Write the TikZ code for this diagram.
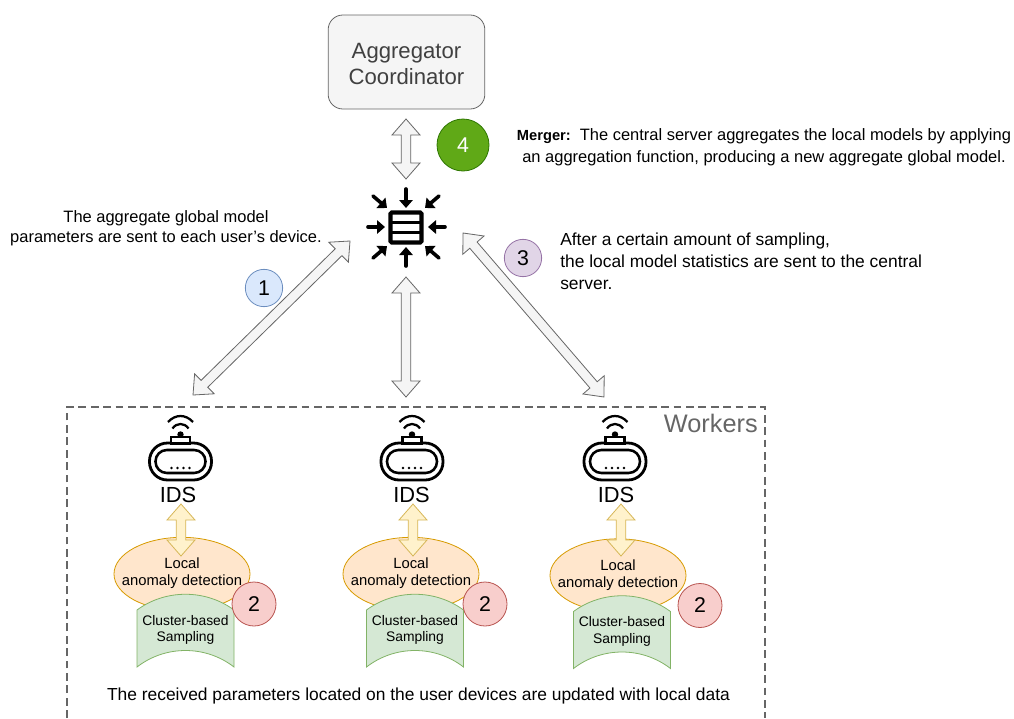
\documentclass[tikz,border=0pt]{standalone}
\usepackage{fontspec}
\setmainfont{Liberation Sans}
\usetikzlibrary{arrows.meta,calc,shapes.geometric}
\definecolor{grayfill}{HTML}{F5F5F5}
\definecolor{grayline}{HTML}{666666}
\definecolor{yellowfill}{HTML}{FFF2CC}
\definecolor{yellowline}{HTML}{D6B656}
\definecolor{orangefill}{HTML}{FFE6CC}
\definecolor{orangeline}{HTML}{D79B00}
\definecolor{greenfill}{HTML}{D5E8D4}
\definecolor{greenline}{HTML}{82B366}
\definecolor{bluefill}{HTML}{DAE8FC}
\definecolor{blueline}{HTML}{6C8EBF}
\definecolor{redfill}{HTML}{F8CECC}
\definecolor{redline}{HTML}{B85450}
\definecolor{purplefill}{HTML}{E1D5E7}
\definecolor{purpleline}{HTML}{9673A6}
\definecolor{darkfill}{HTML}{60A917}
\definecolor{darkline}{HTML}{2D7600}
\newcommand{\fs}[1]{\fontsize{#1}{#1}\selectfont}
% fat outlined arrow, pointed at both ends
\newcommand{\fatarrow}[3]{\draw[#1] (#2)
  -- ($(#2)!12pt!(#3)!10.5pt!90:(#3)$) -- ($(#2)!12pt!(#3)!3.6pt!90:(#3)$)
  -- ($(#3)!12pt!(#2)!3.6pt!-90:(#2)$) -- ($(#3)!12pt!(#2)!10.5pt!-90:(#2)$)
  -- (#3)
  -- ($(#3)!12pt!(#2)!10.5pt!90:(#2)$) -- ($(#3)!12pt!(#2)!3.6pt!90:(#2)$)
  -- ($(#2)!12pt!(#3)!3.6pt!-90:(#3)$) -- ($(#2)!12pt!(#3)!10.5pt!-90:(#3)$)
  -- cycle;}
\tikzset{
  grayarrow/.style={draw=grayline,fill=grayfill,line width=0.6pt,line join=miter},
  yellowarrow/.style={draw=yellowline,fill=yellowfill,line width=0.6pt},
  badge/.style 2 args={circle,draw=#2,fill=#1,line width=0.6pt,minimum size=28pt,inner sep=0pt,font=\fs{16}},
  label/.style={align=center,inner sep=0pt,font=\fs{12.35}},
  widelabel/.style={align=left,inner sep=0pt,font=\fs{13.05}},
  minilabel/.style={align=center,inner sep=0pt,font=\fs{10.4}},
  idsicon/.pic={
    \draw[line width=2.1pt,rounded corners=13.5pt,fill=white] (-31,-18.5) rectangle (31,18.5);
    \draw[line width=1.9pt,rounded corners=8.5pt] (-25,-11.5) rectangle (25,11.5);
    \draw[line width=1.7pt,fill=white] (-9.5,-24.5) rectangle (9.5,-18);
    \fill (0,-27) circle (2.4pt);
    \draw[line width=1.7pt] (-8,-33) .. controls (-4,-39) and (4,-39) .. (8,-33);
    \draw[line width=1.7pt] (-12.5,-39.5) .. controls (-5,-47.5) and (5,-47.5) .. (12.5,-39.5);
    \foreach \k in {-9,-3,3,9} \fill (\k,6.5) circle (1.1pt);
  }
}
\begin{document}
\begin{tikzpicture}[x=0.75pt,y=-0.75pt]
\useasboundingbox (0,0) rectangle (1014,718);
% server
\node[draw=grayline,fill=grayfill,line width=0.6pt,rounded corners=11pt,minimum width=117.5pt,minimum height=70.5pt] (aggregator) at (406.5,62) {};
\node[align=center,inner sep=0pt,text=black!75,font=\fs{16.6}] (aggregatortext) at (406.5,64) {Aggregator\\[3pt]Coordinator};
\coordinate (top1) at (406,119); \coordinate (top2) at (406,179);
\fatarrow{grayarrow}{top1}{top2}
\node[badge={darkfill}{darkline},text=white,minimum size=39pt] (four) at (463,145) {4};
% merge icon
\draw[line width=3.1pt,rounded corners=1pt] (390.5,212.5) rectangle (421.5,242.5);
\draw[line width=2.6pt] (390,222.5) -- (422,222.5) (390,232.5) -- (422,232.5);
\foreach \xa/\ya/\xb/\yb in {406/189/406/208,406/266/406/247,368/227/385/227,445/227/428/227,
  373/196/387/208,439/196/425/208,373/258/387/246,439/258/425/246}
  \draw[line width=2.7pt,line cap=round,-{Triangle[length=6pt,width=10pt]}] (\xa,\ya) -- (\xb,\yb);
% to and from the workers
\coordinate (left1) at (350,241); \coordinate (left2) at (193,395);
\coordinate (mid1) at (406,277); \coordinate (mid2) at (406,397);
\coordinate (right1) at (463,233); \coordinate (right2) at (604,397);
\fatarrow{grayarrow}{left1}{left2}
\fatarrow{grayarrow}{mid1}{mid2}
\fatarrow{grayarrow}{right1}{right2}
\node[badge={bluefill}{blueline}] (one) at (264,288) {1};
\node[badge={purplefill}{purpleline}] (three) at (523,258) {3};
% texts
\node[label] (merger) at (764,147) {{\bfseries\fs{11}Merger:}\ \ The central server aggregates the local models by applying\\[4pt]an aggregation function, producing a new aggregate global model.};
\node[label] (sent) at (166,228) {The aggregate global model\\[3pt]parameters are sent to each user’s device.};
\node[widelabel,anchor=west] (after) at (560,261.5) {After a certain amount of sampling,\\[3.5pt]the local model statistics are sent to the central\\[3.5pt]server.};
% workers
\draw[grayline,line width=1.7pt,dash pattern=on 5.8pt off 3.5pt] (67,718) -- (67,407) -- (765,407) -- (765,718);
\node[anchor=east,inner sep=0pt,text=grayline,font=\fs{19}] (workers) at (758,423) {Workers};
\foreach \n/\xe/\xt/\xa/\xi/\xl/\xb/\dy in {a/182/185.5/181/180.5/178/254/0,b/411/415/413/412/411.5/485/0,c/618/622/621/615/616/700/1.5}{
  \pic at (\xi,461.5) {idsicon};
  \node[inner sep=0pt,font=\fs{16.4}] (ids\n) at (\xl,495) {IDS};
  \node[draw=orangeline,fill=orangefill,line width=0.6pt,ellipse,minimum width=102pt,minimum height=55pt,inner sep=0pt] (detect\n) at (\xe,574+\dy) {};
  \draw[draw=greenline,fill=greenfill,line width=0.6pt]
    (\xt-48.5,610+\dy) .. controls (\xt-20,589+\dy) and (\xt+20,589+\dy) .. (\xt+48.5,610+\dy)
    -- (\xt+48.5,667+\dy) .. controls (\xt+20,645+\dy) and (\xt-20,645+\dy) .. (\xt-48.5,667+\dy) -- cycle;
  \node[minilabel] (cluster\n) at (\xt,630+\dy) {Cluster-based\\[2.2pt]Sampling};
  \node[minilabel,font=\fs{11.1}] (local\n) at (\xe,573.5+\dy) {Local\\[1.6pt]anomaly detection};
  \coordinate (up\n) at (\xa,504); \coordinate (down\n) at (\xa,556);
  \fatarrow{yellowarrow}{up\n}{down\n}
  \node[badge={redfill}{redline},minimum size=33pt] (two\n) at (\xb,604+\dy) {2};
}
\node[inner sep=0pt,font=\fs{13.05}] (received) at (418.5,696) {The received parameters located on the user devices are updated with local data};
\end{tikzpicture}
\end{document}
